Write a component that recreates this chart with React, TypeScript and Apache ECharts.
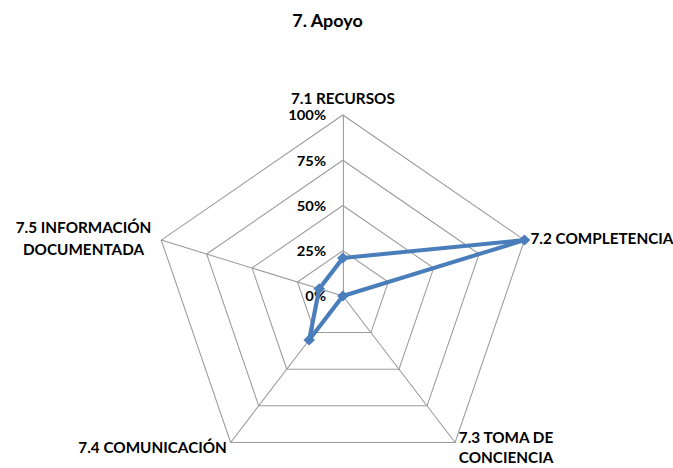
import React, { useEffect, useRef } from "react";
import * as echarts from "echarts";

// Indicators listed clockwise from the top as in the reference
const categories = [
  "7.1 RECURSOS",
  "7.2 COMPLETENCIA",
  "7.3 TOMA DE\nCONCIENCIA",
  "7.4 COMUNICACIÓN",
  "7.5 INFORMACIÓN\nDOCUMENTADA",
];
const values = [21, 100, 0, 30, 13];
const tickLabels = ["0%", "25%", "50%", "75%", "100%"];
const maxValue = 100;

const STRETCH = 1.055;
const W = 673;
const H = 468;

export default function App() {
  const ref = useRef<HTMLDivElement>(null);
  useEffect(() => {
    document.body.style.margin = "0";
    if (!ref.current) return;
    const chart = echarts.init(ref.current, undefined, { renderer: "svg" });
    // ECharts radar runs counter-clockwise: reverse the order after the first
    const order = [0, 4, 3, 2, 1];
    const indicator = order.map((i, k) => ({
      name: categories[i],
      max: maxValue,
      min: 0,
      axisLabel: k === 0 ? { show: true } : { show: false },
    }));
    const data = order.map((i) => values[i]);
    const font = "Lato, 'Open Sans', sans-serif";
    chart.setOption({
      animation: false,
      title: {
        text: "7. Apoyo",
        left: 272,
        top: 7,
        textStyle: { fontFamily: font, fontWeight: "bold", fontSize: 17, color: "#000" },
      },
      radar: {
        center: [325, 296],
        radius: 181,
        startAngle: 90,
        splitNumber: 4,
        shape: "polygon",
        nameGap: 6,
        axisName: {
          color: "#000",
          fontFamily: font,
          fontWeight: "bold",
          fontSize: 14.5,
          lineHeight: 20,
          formatter: (name: string) => {
            if (name.indexOf("INFORMACIÓN") >= 0) {
              return name
                .split("\n")
                .map((s) => "{c|" + s + "}")
                .join("\n");
            }
            return name;
          },
          rich: {
            c: {
              width: 136,
              align: "center",
              color: "#000",
              fontFamily: font,
              fontWeight: "bold",
              fontSize: 14.5,
              lineHeight: 22,
            },
          },
        },
        axisLine: { lineStyle: { color: "#9a9a9a", width: 1 } },
        splitLine: { lineStyle: { color: "#9a9a9a", width: 1 } },
        splitArea: { show: false },
        axisTick: { show: false },
        axisLabel: {
          show: false,
          color: "#000",
          fontFamily: font,
          fontWeight: "bold",
          fontSize: 14,
          margin: 16,
          formatter: (v: number) => tickLabels[Math.round(v / 25)] ?? "",
        },
        indicator,
      },
      series: [
        {
          type: "radar",
          symbol: "diamond",
          symbolSize: 11,
          lineStyle: { color: "#4a7ebb", width: 4 },
          itemStyle: { color: "#4a7ebb" },
          data: [{ value: data }],
        },
      ],
    });
    return () => chart.dispose();
  }, []);
  return (
    <div style={{ width: W, height: H, overflow: "hidden", position: "relative" }}>
      <div
        ref={ref}
        style={{
          width: Math.round(W / STRETCH),
          height: H,
          transform: `scaleX(${STRETCH})`,
          transformOrigin: "0 0",
        }}
      />
    </div>
  );
}
